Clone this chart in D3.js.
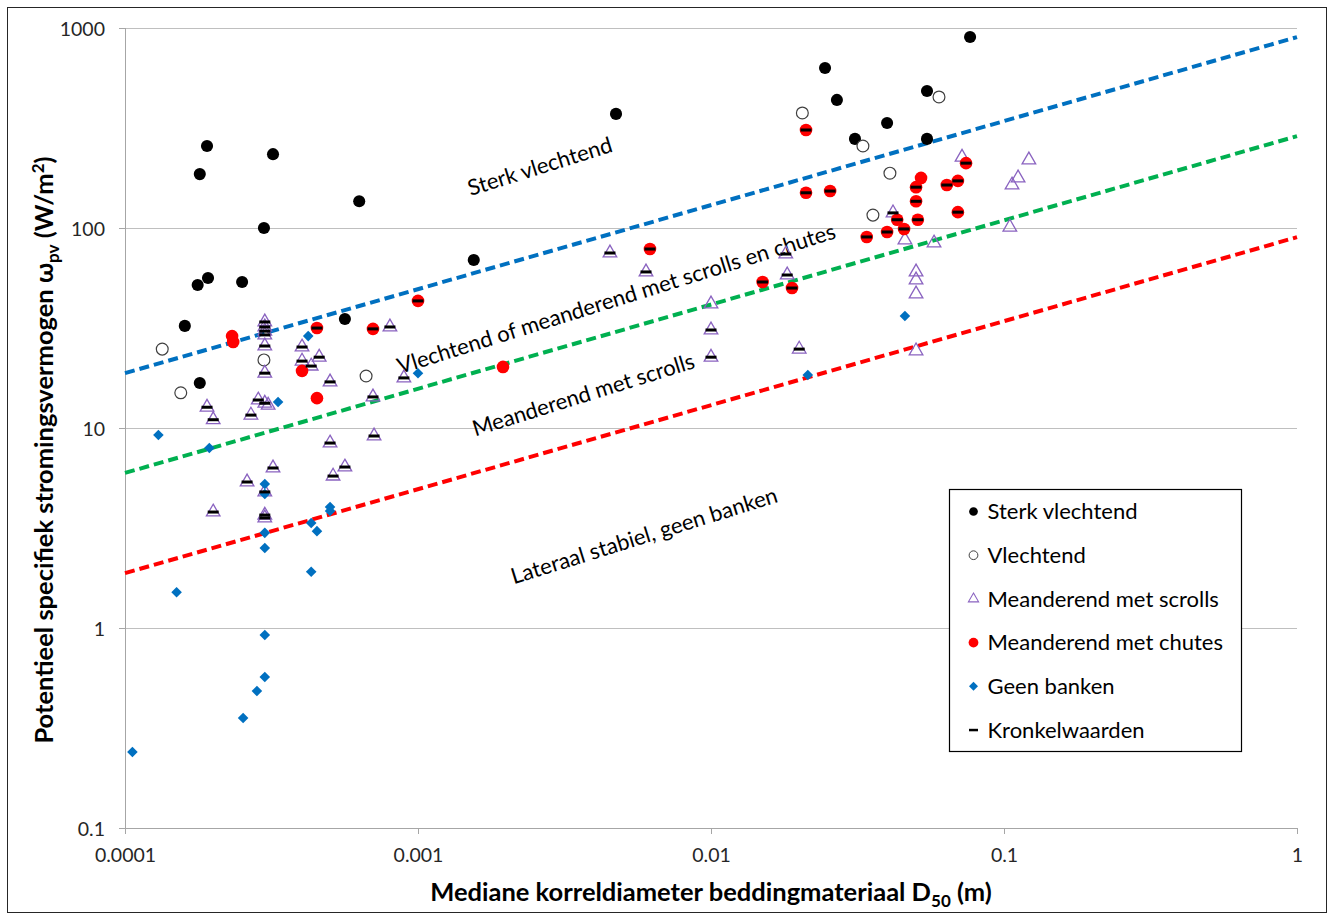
<!DOCTYPE html>
<html>
<head>
<meta charset="utf-8">
<script src="https://cdn.jsdelivr.net/npm/d3@7"></script>
<style>
  html, body { margin: 0; padding: 0; background: #fff; }
  svg { display: block; font-family: Lato, 'Noto Sans', sans-serif; }
</style>
</head>
<body>
<svg id="chart" width="1334" height="917"></svg>
<script>
// [D50 (m), omega (W/m2)] per category
const sterkVlechtend = [
  [1.60e-4, 32.4], [1.80e-4, 16.8], [1.80e-4, 186], [1.905e-4, 257], [1.77e-4, 51.9],
  [1.92e-4, 56.2], [2.51e-4, 53.7], [2.98e-4, 100], [3.2e-4, 234], [5.63e-4, 35.1],
  [6.3e-4, 136], [1.55e-3, 69.2], [4.74e-3, 372], [0.0245, 631], [0.0269, 437],
  [0.031, 279], [0.0399, 335], [0.0546, 484], [0.0546, 279], [0.0766, 902]
]
const vlechtend = [
  [1.34e-4, 24.8], [1.55e-4, 15.0], [2.98e-4, 21.9], [6.65e-4, 18.2], [0.0205, 376],
  [0.06, 452], [0.033, 257], [0.0408, 188], [0.0357, 116]
]
const meanderendScrolls = [
  [3e-4, 33.9], [3e-4, 32.0], [3e-4, 30.5], [3e-4, 29.2], [3e-4, 25.7], [3e-4, 18.8],
  [2.85e-4, 13.8], [3e-4, 13.3], [3.08e-4, 13.0], [2.69e-4, 11.6], [1.905e-4, 12.7], [2.0e-4, 11.0],
  [4.02e-4, 25.4], [4.02e-4, 21.6], [4.32e-4, 20.4], [4.6e-4, 22.6], [5.01e-4, 17.0],
  [8.02e-4, 32.0], [8.95e-4, 17.8], [7.02e-4, 14.3], [7.08e-4, 9.12], [5.01e-4, 8.41],
  [3.2e-4, 6.31], [2.61e-4, 5.37], [5.63e-4, 6.38], [5.13e-4, 5.75], [3e-4, 4.79],
  [2.0e-4, 3.80], [3e-4, 3.67], [3e-4, 3.55], [4.52e-3, 75], [6.0e-3, 60.3],
  [0.01, 41.7], [0.01, 30.9], [0.01, 22.6], [0.018, 74.1], [0.0182, 58.2], [0.02, 24.8],
  [0.0418, 119], [0.0459, 87.1], [0.0577, 84.1], [0.1047, 101], [0.0501, 60.3],
  [0.0501, 55.0], [0.0501, 46.8], [0.0501, 24.3], [0.0719, 226], [0.1216, 219],
  [0.1117, 178], [0.1065, 164]
]
const meanderendChutes = [
  [2.32e-4, 28.8], [2.34e-4, 26.9], [4.52e-4, 31.6], [7.02e-4, 31.3], [4.02e-4, 19.3],
  [4.52e-4, 14.1], [0.001, 43.2], [6.19e-3, 78.5], [1.95e-3, 20.2], [0.0211, 309],
  [0.0211, 150], [0.0255, 153], [0.0521, 178], [0.0501, 160], [0.0501, 136],
  [0.0508, 110], [0.0432, 110], [0.0456, 98.9], [0.0399, 95.5], [0.034, 90.2],
  [0.0638, 164], [0.0696, 172], [0.0742, 211], [0.0696, 120], [0.015, 53.7], [0.0189, 50.1]
]
const geenBanken = [
  [1.30e-4, 9.23], [1.94e-4, 7.94], [3.33e-4, 13.5], [4.22e-4, 28.8], [0.001, 18.8],
  [3e-4, 5.25], [3e-4, 4.68], [3e-4, 2.99], [3e-4, 2.51], [4.32e-4, 3.35], [4.52e-4, 3.05],
  [5.01e-4, 4.03], [5.01e-4, 3.85], [4.32e-4, 1.91], [1.50e-4, 1.51], [3e-4, 0.923],
  [3e-4, 0.569], [2.82e-4, 0.484], [2.53e-4, 0.355], [1.06e-4, 0.24], [0.0459, 36.3],
  [0.0214, 18.4]
]
const kronkelwaarden = [
  [3e-4, 33.9], [3e-4, 32.0], [3e-4, 30.5], [3e-4, 29.2], [3e-4, 25.7], [3e-4, 18.8],
  [2.85e-4, 13.8], [3e-4, 13.3], [2.69e-4, 11.6], [1.905e-4, 12.7], [2.0e-4, 11.0],
  [4.02e-4, 25.4], [4.02e-4, 21.6], [4.32e-4, 20.4], [4.6e-4, 22.6], [5.01e-4, 17.0],
  [8.02e-4, 32.0], [8.95e-4, 17.8], [7.02e-4, 14.3], [7.08e-4, 9.12], [5.01e-4, 8.41],
  [3.2e-4, 6.31], [2.61e-4, 5.37], [5.63e-4, 6.38], [5.13e-4, 5.75], [3e-4, 4.79],
  [2.0e-4, 3.80], [3e-4, 3.67], [3e-4, 3.55], [4.52e-3, 75], [6.0e-3, 60.3],
  [0.01, 30.9], [0.01, 22.6], [0.018, 74.1], [0.0182, 58.2], [0.02, 24.8], [0.0418, 119],
  [4.52e-4, 31.6], [7.02e-4, 31.3], [0.001, 43.2], [6.19e-3, 78.5], [0.0211, 309],
  [0.0211, 150], [0.0255, 153], [0.0501, 160], [0.0501, 136], [0.0508, 110], [0.0432, 110],
  [0.0456, 98.9], [0.0399, 95.5], [0.034, 90.2], [0.0638, 164], [0.0696, 172],
  [0.0742, 211], [0.0696, 120], [0.015, 53.7], [0.0189, 50.1]
]

// boundary lines (two end points each)
const grensSterk = [[1e-4, 18.8], [1, 901]]
const grensMeander = [[1e-4, 5.96], [1, 288]]
const grensStabiel = [[1e-4, 1.88], [1, 90]]

const xTicks = [0.0001, 0.001, 0.01, 0.1, 1]
const yTicks = [0.1, 1, 10, 100, 1000]
const legendLabels = ['Sterk vlechtend', 'Vlechtend', 'Meanderend met scrolls', 'Meanderend met chutes', 'Geen banken', 'Kronkelwaarden']
const zoneLabels = ['Sterk vlechtend', 'Vlechtend of meanderend met scrolls en chutes', 'Meanderend met scrolls', 'Lateraal stabiel, geen banken']
const zoneAnchors = [[2.6e-3, 205], [4.74e-3, 44.7], [3.66e-3, 14.8], [5.9e-3, 2.92]]

const main = () => {
  const width = 1334, height = 917
  const margin = { top: 28, right: 37, bottom: 89, left: 125 }
  const svg = d3.select('#chart')

  // outer frame
  svg.append('rect')
    .attr('x', 7.5).attr('y', 7.5)
    .attr('width', width - 15).attr('height', height - 12)
    .attr('fill', 'none').attr('stroke', '#262626').attr('stroke-width', 1)

  const x = d3.scaleLog().domain([1e-4, 1]).range([margin.left, width - margin.right])
  const y = d3.scaleLog().domain([0.1, 1000]).range([height - margin.bottom, margin.top])

  // gridlines
  svg.append('g')
    .selectAll('line')
    .data(yTicks)
    .join('line')
      .attr('x1', x(1e-4)).attr('x2', x(1))
      .attr('y1', d => y(d)).attr('y2', d => y(d))
      .attr('stroke', '#bfbfbf').attr('stroke-width', 1)
      .attr('shape-rendering', 'crispEdges')

  const yAxis = svg.append('g')
    .attr('transform', `translate(${margin.left},0)`)
    .call(d3.axisLeft(y).tickValues(yTicks).tickFormat(d => String(d)).tickSizeOuter(0).tickSize(6).tickPadding(14))
  const xAxis = svg.append('g')
    .attr('transform', `translate(0,${height - margin.bottom})`)
    .call(d3.axisBottom(x).tickValues(xTicks).tickFormat(d => String(d)).tickSizeOuter(0).tickSize(6).tickPadding(14))
  for (const ax of [xAxis, yAxis]) {
    ax.select('.domain').attr('stroke', '#a6a6a6').attr('shape-rendering', 'crispEdges')
    ax.selectAll('.tick line').attr('stroke', '#a6a6a6').attr('shape-rendering', 'crispEdges')
    ax.selectAll('.tick text')
      .attr('fill', '#262626')
      .style('font-size', '19.5px')
      .style('font-family', 'Lato, sans-serif')
  }
  yAxis.selectAll('.tick text').attr('dy', '0.36em')

  // axis titles
  const xt = svg.append('text')
    .attr('x', x(0.01)).attr('y', 901)
    .attr('text-anchor', 'middle')
    .style('font-size', '25.5px').style('font-weight', 700).attr('fill', '#000')
  xt.append('tspan').text('Mediane korreldiameter beddingmateriaal D')
  xt.append('tspan').attr('dy', 6).style('font-size', '17px').text('50')
  xt.append('tspan').attr('dy', -6).text(' (m)')

  const yt = svg.append('text')
    .attr('transform', `translate(53,450) rotate(-90)`)
    .attr('text-anchor', 'middle')
    .style('font-size', '25.5px').style('font-weight', 700).attr('fill', '#000')
  yt.append('tspan').text('Potentieel specifiek stromingsvermogen ω')
  yt.append('tspan').attr('dy', 6).style('font-size', '17px').text('pv')
  yt.append('tspan').attr('dy', -6).text(' (W/m')
  yt.append('tspan').attr('dy', -9).style('font-size', '17px').text('2')
  yt.append('tspan').attr('dy', 9).text(')')

  // boundary lines
  const line = d3.line().x(d => x(d[0])).y(d => y(d[1]))
  const grenzen = [
    { data: grensSterk, color: '#0070c0' },
    { data: grensMeander, color: '#00b050' },
    { data: grensStabiel, color: '#ff0000' }
  ]
  svg.append('g')
    .selectAll('path')
    .data(grenzen)
    .join('path')
      .attr('d', d => line(d.data))
      .attr('fill', 'none')
      .attr('stroke', d => d.color)
      .attr('stroke-width', 4)
      .attr('stroke-dasharray', '10 5')

  // zone labels
  svg.append('g')
    .selectAll('text')
    .data(zoneLabels)
    .join('text')
      .attr('transform', (d, i) => `translate(${x(zoneAnchors[i][0])},${y(zoneAnchors[i][1])}) rotate(-17.3)`)
      .attr('text-anchor', 'middle')
      .attr('dominant-baseline', 'central')
      .style('font-size', '22px')
      .attr('fill', '#000')
      .text(d => d)

  // markers
  const sym = (type, size) => d3.symbol().type(type).size(size)()
  const diamond = d3.symbol().type(d3.symbolSquare).size(56)()
  const pts = svg.append('g')
  const pos = d => `translate(${x(d[0])},${y(d[1])})`

  pts.append('g').selectAll('path').data(sterkVlechtend).join('path')
    .attr('transform', pos).attr('d', sym(d3.symbolCircle, 115)).attr('fill', '#000')
  pts.append('g').selectAll('path').data(vlechtend).join('path')
    .attr('transform', pos).attr('d', sym(d3.symbolCircle, 110))
    .attr('fill', '#fff').attr('stroke', '#404040').attr('stroke-width', 1.2)
  pts.append('g').selectAll('path').data(meanderendScrolls).join('path')
    .attr('transform', pos).attr('d', sym(d3.symbolTriangle, 80))
    .attr('fill', 'none').attr('stroke', '#8a63c0').attr('stroke-width', 1.3)
  pts.append('g').selectAll('path').data(meanderendChutes).join('path')
    .attr('transform', pos).attr('d', sym(d3.symbolCircle, 125)).attr('fill', '#ff0000')
  pts.append('g').selectAll('path').data(geenBanken).join('path')
    .attr('transform', d => `${pos(d)} rotate(45)`).attr('d', diamond).attr('fill', '#0070c0')
  pts.append('g').selectAll('rect').data(kronkelwaarden).join('rect')
    .attr('x', d => x(d[0]) - 5.5).attr('y', d => y(d[1]) - 1.5)
    .attr('width', 11).attr('height', 3).attr('fill', '#000')

  // legend
  const lg = svg.append('g').attr('transform', 'translate(949.5,489.5)')
  lg.append('rect').attr('width', 292).attr('height', 262)
    .attr('fill', '#fff').attr('stroke', '#000').attr('stroke-width', 1.2)
  const items = lg.selectAll('g.item').data(legendLabels).join('g')
    .attr('class', 'item')
    .attr('transform', (d, i) => `translate(24,${22 + i * 43.7})`)
  items.append('text')
    .attr('x', 14).attr('dy', '0.35em')
    .style('font-size', '22px').attr('fill', '#000')
    .text(d => d)
  items.each(function (d, i) {
    const g = d3.select(this)
    if (i === 0) g.append('path').attr('d', sym(d3.symbolCircle, 60)).attr('fill', '#000')
    if (i === 1) g.append('path').attr('d', sym(d3.symbolCircle, 60)).attr('fill', '#fff').attr('stroke', '#404040')
    if (i === 2) g.append('path').attr('d', sym(d3.symbolTriangle, 45)).attr('fill', 'none').attr('stroke', '#8a63c0').attr('stroke-width', 1.1)
    if (i === 3) g.append('path').attr('d', sym(d3.symbolCircle, 75)).attr('fill', '#ff0000')
    if (i === 4) g.append('path').attr('d', d3.symbol().type(d3.symbolSquare).size(40)()).attr('transform', 'rotate(45)').attr('fill', '#0070c0')
    if (i === 5) g.append('rect').attr('x', -4.5).attr('y', -1.2).attr('width', 9).attr('height', 2.5).attr('fill', '#000')
  })
}
main()
</script>
</body>
</html>
